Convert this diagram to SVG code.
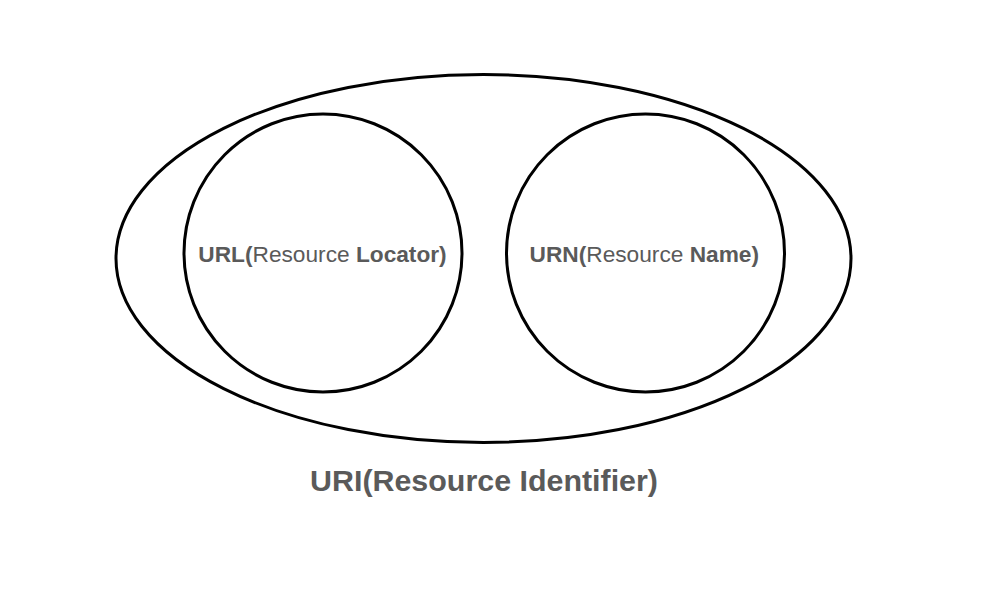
<svg xmlns="http://www.w3.org/2000/svg" width="1001" height="604" viewBox="0 0 1001 604">
  <style>
    .shape { fill: none; stroke: #000; stroke-width: 3; }
    .lbl { font-family: "Liberation Sans", Arial, sans-serif; fill: #5a5a5a; text-anchor: middle; }
    .b { font-weight: bold; }
  </style>
  <rect width="1001" height="604" fill="#fff"/>
  <g id="uri">
    <ellipse class="shape" cx="483.5" cy="258.5" rx="367.5" ry="184"/>
    <text class="lbl b" x="484" y="491" font-size="30.4">URI(Resource Identifier)</text>
  </g>
  <g id="url">
    <circle class="shape" cx="323" cy="253" r="139"/>
    <text class="lbl" x="322.5" y="262" font-size="22.7"><tspan class="b">URL(</tspan>Resource <tspan class="b">Locator)</tspan></text>
  </g>
  <g id="urn">
    <circle class="shape" cx="645.5" cy="253" r="139"/>
    <text class="lbl" x="644.3" y="262" font-size="22.7"><tspan class="b">URN(</tspan>Resource <tspan class="b">Name)</tspan></text>
  </g>
  <g id="connectors"/>
</svg>
